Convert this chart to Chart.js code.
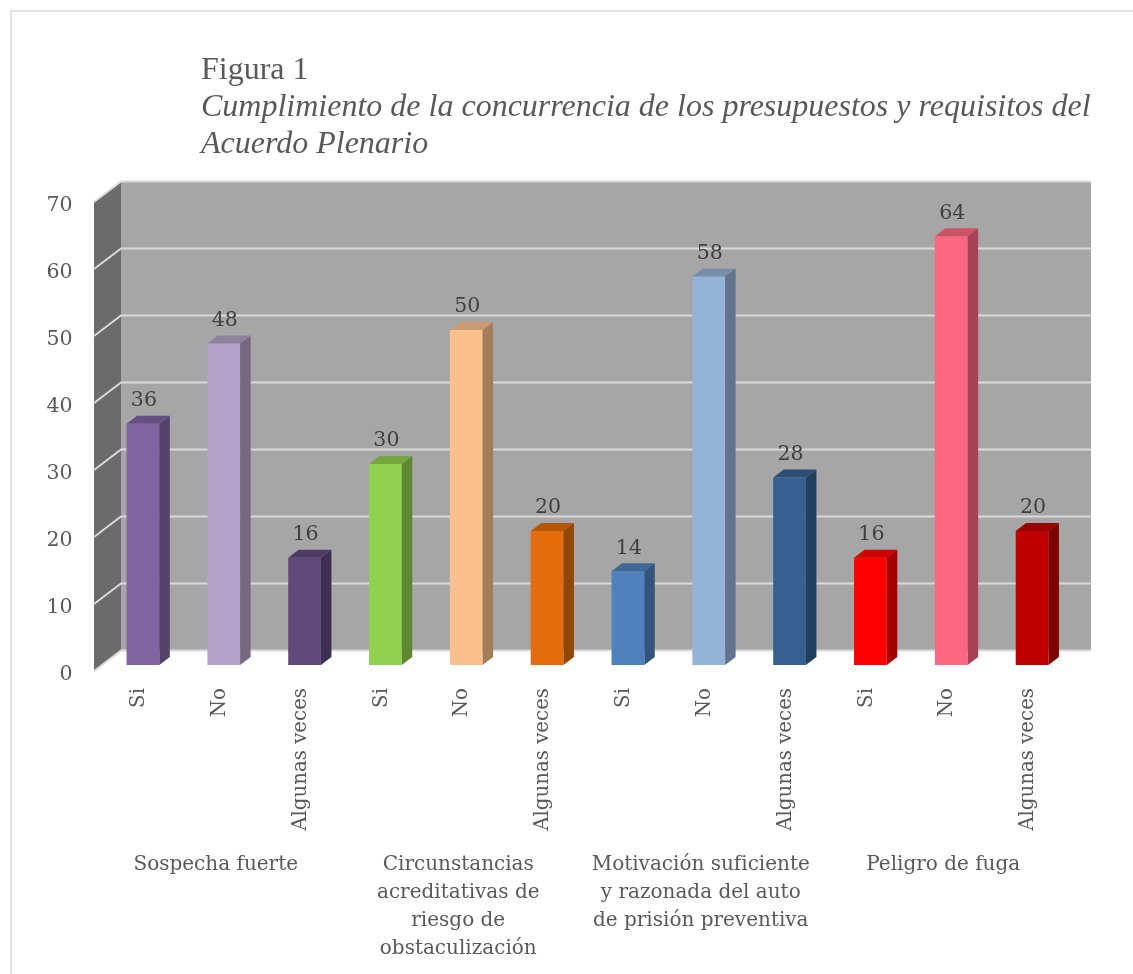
<!DOCTYPE html>
<html lang="es">
<head>
<meta charset="utf-8">
<title>Figura 1</title>
<script src="https://cdn.jsdelivr.net/npm/chart.js@4/dist/chart.umd.min.js"></script>
<style>
  html, body { margin: 0; padding: 0; background: #fff; overflow: hidden; }
  #page { position: relative; width: 1133px; height: 974px; overflow: hidden; }
  #frame { position: absolute; left: 10px; top: 10px; width: 1200px; height: 1100px; border: 2px solid #e2e2e2; }
  #chart { position: absolute; left: 0; top: 0; }
  #heading { position: absolute; left: 201px; top: 50px; color: #595959;
    font: 32px/37px "Liberation Serif", serif; white-space: nowrap; }
  #heading i { display: block; }
</style>
</head>
<body>
<div id="page">
  <div id="frame"></div>
  <canvas id="chart" width="1133" height="974"></canvas>
  <div id="heading">
    <div id="fig"></div>
    <i id="sub1"></i>
    <i id="sub2"></i>
  </div>
</div>
<script>
// chart data
const titleLines = ['Figura 1', 'Cumplimiento de la concurrencia de los presupuestos y requisitos del', 'Acuerdo Plenario'];
const categories = ['Si', 'No', 'Algunas veces', 'Si', 'No', 'Algunas veces', 'Si', 'No', 'Algunas veces', 'Si', 'No', 'Algunas veces'];
const values = [36, 48, 16, 30, 50, 20, 14, 58, 28, 16, 64, 20];
const groups = [
    ['Sospecha fuerte'],
    ['Circunstancias', 'acreditativas de', 'riesgo de', 'obstaculización'],
    ['Motivación suficiente', 'y razonada del auto', 'de prisión preventiva'],
    ['Peligro de fuga']
];
const barColors = ['#8064A2', '#B3A2C7', '#604A7B', '#92D050', '#FCC08F', '#E46C0A', '#4F81BD', '#95B3D7', '#376092', '#FF0000', '#FF6680', '#C00000'];
const yTicks = [0, 10, 20, 30, 40, 50, 60, 70];

const serif = '"DejaVu Serif", serif';
const textColor = '#595959';

document.getElementById('fig').textContent = titleLines[0];
document.getElementById('sub1').textContent = titleLines[1];
document.getElementById('sub2').textContent = titleLines[2];

function shade(hex, f) {
    const n = parseInt(hex.slice(1), 16);
    const r = Math.round((n >> 16) * f);
    const g = Math.round(((n >> 8) & 255) * f);
    const b = Math.round((n & 255) * f);
    return `rgb(${r},${g},${b})`;
}

function poly(ctx, pts, fill) {
    ctx.beginPath();
    pts.forEach((p, i) => i ? ctx.lineTo(p[0], p[1]) : ctx.moveTo(p[0], p[1]));
    ctx.closePath();
    ctx.fillStyle = fill;
    ctx.fill();
}

// back wall, side wall and grid lines of the 3D box
const wallsPlugin = {
    id: 'walls',
    beforeDatasetsDraw(chart) {
        const { ctx, chartArea: a, scales: { y } } = chart;
        const backL = a.left + 18.5, backR = a.right + 18.5, frontL = a.left - 8.5;
        const y0 = y.getPixelForValue(0), y70 = y.getPixelForValue(70);
        ctx.save();
        poly(ctx, [[backL, y70 - 14], [backR, y70 - 14], [backR, y0 - 15], [backL, y0 - 15]], '#A6A6A6');
        poly(ctx, [[frontL, y70 + 6], [backL, y70 - 14], [backL, y0 - 15], [frontL, y0 + 6]], '#6B6B6B');
        ctx.strokeStyle = '#D9D9D9';
        ctx.lineWidth = 2;
        yTicks.forEach(v => {
            const py = y.getPixelForValue(v);
            ctx.beginPath();
            ctx.moveTo(frontL, py + 6);
            ctx.lineTo(backL, py - 14.5);
            ctx.lineTo(backR, py - 14.5);
            ctx.stroke();
        });
        ctx.restore();
    }
};

// side and top faces of the bars, value labels, group labels
const facesPlugin = {
    id: 'faces',
    afterDatasetsDraw(chart) {
        const { ctx, scales: { x } } = chart;
        const bars = chart.getDatasetMeta(0).data;
        ctx.save();
        bars.forEach((bar, i) => {
            const { x: cx, y: top, base, width } = bar.getProps(['x', 'y', 'base', 'width'], true);
            const l = cx - width / 2, r = cx + width / 2, dx = 10.5, dy = 8;
            poly(ctx, [[r, top], [r + dx, top - dy], [r + dx, base - dy], [r, base]], shade(barColors[i], 0.65));
            poly(ctx, [[l, top], [l + dx, top - dy], [r + dx, top - dy], [r, top]], shade(barColors[i], 0.8));
            ctx.fillStyle = '#404040';
            ctx.font = '20.5px ' + serif;
            ctx.textAlign = 'center';
            ctx.textBaseline = 'middle';
            ctx.fillText(String(values[i]), cx + 1, top - 23);
        });
        ctx.fillStyle = textColor;
        ctx.font = '20px ' + serif;
        ctx.textAlign = 'center';
        ctx.textBaseline = 'middle';
        groups.forEach((lines, g) => {
            const gx = x.getPixelForValue(g * 3 + 1) - 8;
            lines.forEach((t, j) => ctx.fillText(t, gx, 864.5 + j * 28));
        });
        ctx.restore();
    }
};

new Chart(document.getElementById('chart'), {
    type: 'bar',
    data: {
        labels: categories,
        datasets: [{
            data: values,
            backgroundColor: barColors,
            borderWidth: 0,
            barPercentage: 0.405,
            categoryPercentage: 1
        }]
    },
    options: {
        responsive: false,
        animation: false,
        layout: { padding: { top: 196, right: 60.5, left: 0, bottom: 0 } },
        plugins: { legend: { display: false }, tooltip: { enabled: false } },
        scales: {
            x: {
                grid: { display: false, drawTicks: false },
                border: { display: false },
                afterFit(scale) { scale.height = 309; },
                ticks: {
                    autoSkip: false,
                    maxRotation: 90,
                    minRotation: 90,
                    padding: 23,
                    labelOffset: -4,
                    color: textColor,
                    font: { family: serif, size: 19.8 }
                }
            },
            y: {
                min: 0,
                max: 70,
                grid: { display: false, drawTicks: false },
                border: { display: false },
                afterFit(scale) { scale.width = 102.5; },
                ticks: {
                    stepSize: 10,
                    padding: 30,
                    labelOffset: 9.5,
                    color: textColor,
                    font: { family: serif, size: 20.5 }
                }
            }
        }
    },
    plugins: [wallsPlugin, facesPlugin]
});
</script>
</body>
</html>
